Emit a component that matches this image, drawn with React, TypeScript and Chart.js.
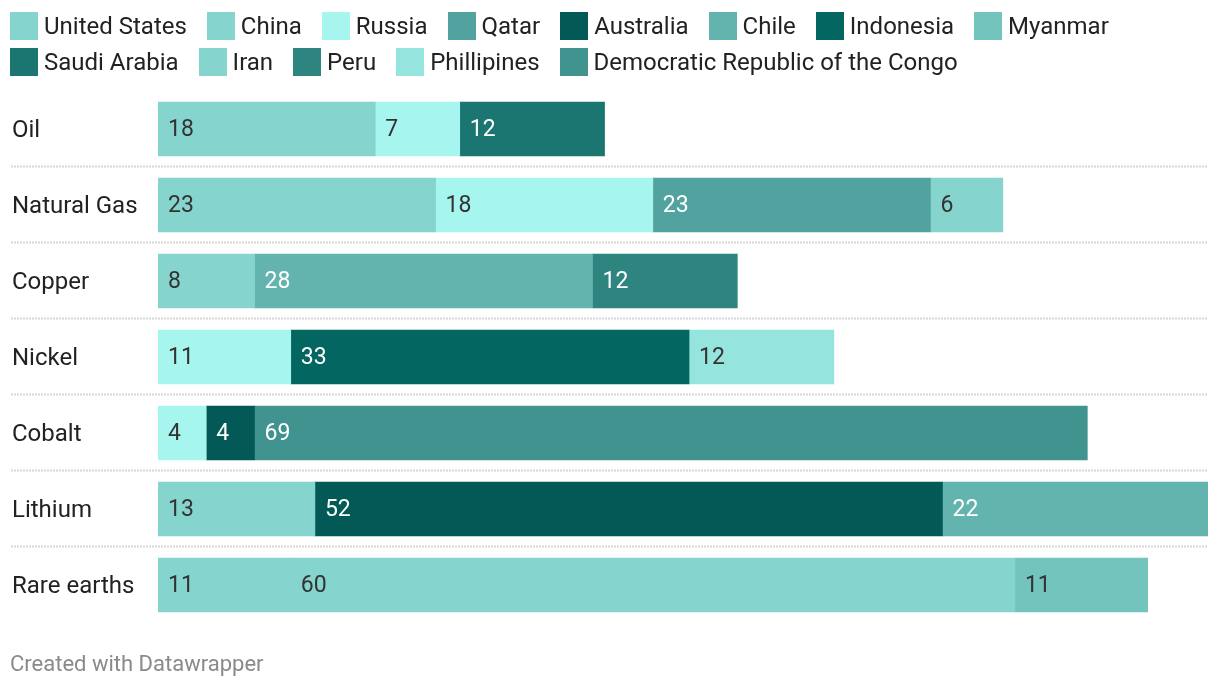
import React, { useEffect, useRef } from "react";
import { Chart, registerables } from "chart.js";

Chart.register(...registerables);

const categories = ["Oil", "Natural Gas", "Copper", "Nickel", "Cobalt", "Lithium", "Rare earths"];

const countries = [
  "United States", "China", "Russia", "Qatar", "Australia", "Chile", "Indonesia",
  "Myanmar", "Saudi Arabia", "Iran", "Peru", "Phillipines", "Democratic Republic of the Congo",
];

const colors = [
  "#85d5ce", "#85d5ce", "#a6f5ee", "#52a39f", "#025956", "#63b4ae", "#036660",
  "#73c4bd", "#1b7570", "#85d5ce", "#2e8580", "#95e5de", "#40938e",
];

const labelColors = [
  "#333333", "#333333", "#333333", "#ffffff", "#ffffff", "#ffffff", "#ffffff",
  "#333333", "#ffffff", "#333333", "#ffffff", "#333333", "#ffffff",
];

const unitedStates = [18, 23, null, null, null, null, 11];
const china = [null, null, 8, null, null, 13, 60];
const russia = [7, 18, null, 11, 4, null, null];
const qatar = [null, 23, null, null, null, null, null];
const australia = [null, null, null, null, 4, 52, null];
const chile = [null, null, 28, null, null, 22, null];
const indonesia = [null, null, null, 33, null, null, null];
const myanmar = [null, null, null, null, null, null, 11];
const saudiArabia = [12, null, null, null, null, null, null];
const iran = [null, 6, null, null, null, null, null];
const peru = [null, null, 12, null, null, null, null];
const phillipines = [null, null, null, 12, null, null, null];
const drCongo = [null, null, null, null, 69, null, null];

const seriesValues = [
  unitedStates, china, russia, qatar, australia, chile, indonesia,
  myanmar, saudiArabia, iran, peru, phillipines, drCongo,
];

const xMax = 87;

const FONT = "Roboto, 'Noto Sans', sans-serif";

const separatorPlugin = {
  id: "separators",
  beforeDatasetsDraw(chart: any) {
    const { ctx, chartArea, scales } = chart;
    const y = scales.y;
    ctx.save();
    ctx.strokeStyle = "#d8d8d8";
    ctx.lineWidth = 2;
    ctx.setLineDash([2, 1]);
    for (let i = 1; i < categories.length; i++) {
      const py = Math.round((y.getPixelForValue(i - 1) + y.getPixelForValue(i)) / 2) - 0.5;
      ctx.beginPath();
      ctx.moveTo(3, py);
      ctx.lineTo(chartArea.right, py);
      ctx.stroke();
    }
    ctx.restore();
  },
};

const valueLabelPlugin = {
  id: "valueLabels",
  afterDatasetsDraw(chart: any) {
    const { ctx } = chart;
    ctx.save();
    ctx.font = `23px ${FONT}`;
    ctx.textAlign = "left";
    ctx.textBaseline = "middle";
    chart.data.datasets.forEach((ds: any, di: number) => {
      const meta = chart.getDatasetMeta(di);
      meta.data.forEach((el: any, i: number) => {
        const v = ds.data[i];
        if (v === null || v === undefined) return;
        const p = el.getProps(["x", "y", "base"], true);
        const left = Math.min(p.x, p.base);
        ctx.fillStyle = labelColors[di];
        ctx.fillText(String(v), left + 10, p.y + 1);
      });
    });
    ctx.restore();
  },
};

export default function App() {
  const canvasRef = useRef<HTMLCanvasElement | null>(null);

  useEffect(() => {
    if (!canvasRef.current) return;
    const chart = new Chart(canvasRef.current, {
      type: "bar",
      data: {
        labels: categories,
        datasets: countries.map((c, i) => ({
          label: c,
          data: seriesValues[i],
          backgroundColor: colors[i],
          borderWidth: 0,
          barThickness: 54,
        })),
      },
      options: {
        indexAxis: "y",
        animation: false,
        responsive: false,
        maintainAspectRatio: false,
        layout: { padding: { top: 83, bottom: 59, left: 4, right: 4 } },
        plugins: {
          legend: { display: false },
          tooltip: { enabled: false },
          title: { display: false },
        },
        scales: {
          x: {
            stacked: true,
            min: 0,
            max: xMax,
            display: false,
          },
          y: {
            stacked: true,
            grid: { display: false },
            border: { display: false },
            afterFit(scale: any) {
              scale.width = 146;
            },
            ticks: {
              crossAlign: "far",
              padding: 0,
              labelOffset: 2,
              color: "#222222",
              font: { family: FONT, size: 24 },
            },
          },
        },
      },
      plugins: [separatorPlugin, valueLabelPlugin],
    });
    return () => chart.destroy();
  }, []);

  return (
    <div style={{ position: "relative", width: 1204, height: 674, fontFamily: FONT }}>
      <canvas ref={canvasRef} width={1204} height={674} style={{ position: "absolute", left: 0, top: 0 }} />
      <div
        style={{
          position: "absolute",
          left: 2,
          top: 4,
          width: 1200,
          display: "flex",
          flexWrap: "wrap",
          rowGap: 8,
          columnGap: 20,
        }}
      >
        {countries.map((c, i) => (
          <div key={c} style={{ display: "flex", alignItems: "center", height: 28 }}>
            <span style={{ display: "inline-block", width: 28, height: 28, background: colors[i], marginRight: 6 }} />
            <span style={{ fontSize: 24, lineHeight: "28px", color: "#222222", whiteSpace: "nowrap" }}>{c}</span>
          </div>
        ))}
      </div>
      <div
        style={{
          position: "absolute",
          left: 2,
          top: 643,
          fontSize: 22,
          lineHeight: "26px",
          color: "#8a8a8a",
        }}
      >
        Created with Datawrapper
      </div>
    </div>
  );
}
